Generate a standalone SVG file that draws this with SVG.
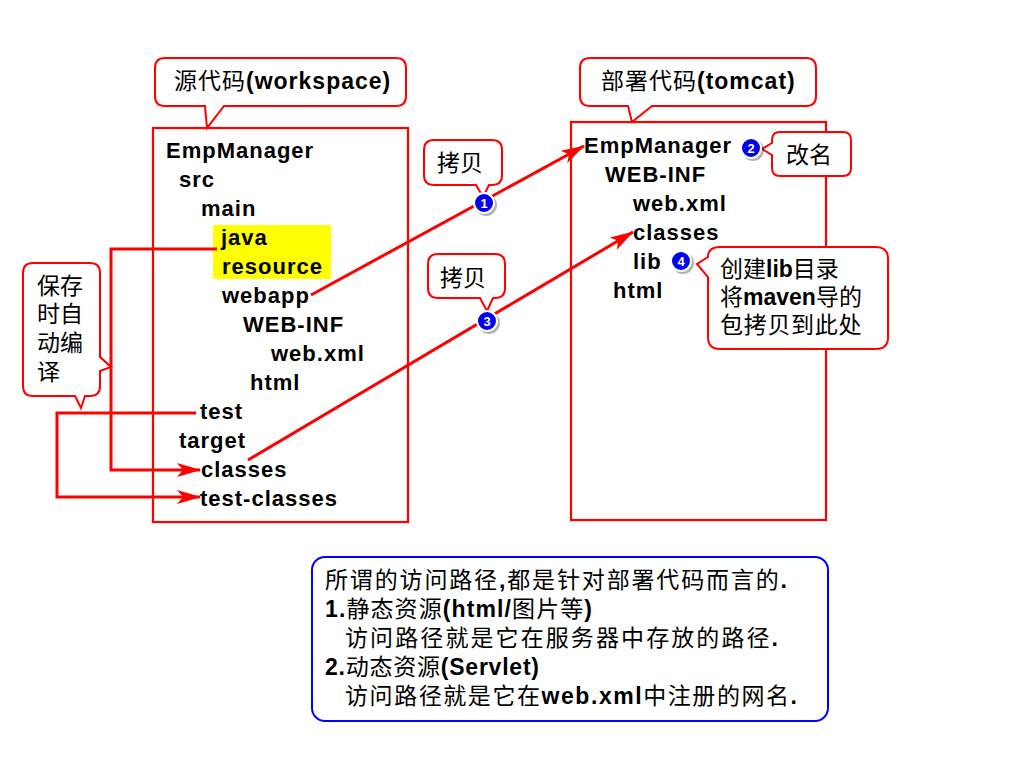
<svg xmlns="http://www.w3.org/2000/svg" width="1024" height="775" viewBox="0 0 1024 775">
<style>
.box{fill:none;stroke:#ff0000;stroke-width:2.2}
.callout{fill:#ffffff;stroke:#ff0000;stroke-width:2}
.tree{font-family:"Liberation Sans",Arial,sans-serif;font-weight:bold;font-size:22px;letter-spacing:1px;fill:#000}
.cjk{font-family:"Liberation Sans","Noto Sans CJK SC",sans-serif;font-size:23px;fill:#000}
.b{font-weight:bold;font-family:"Liberation Sans",Arial,sans-serif}
.conn{fill:none;stroke:#ff0000;stroke-width:3}
.badge-bg{fill:#000;opacity:0.3}
.badge{fill:#0000ee;stroke:#ffffff;stroke-width:2}
.badge-t{font-family:"Liberation Sans",Arial,sans-serif;font-weight:bold;font-size:13px;fill:#fff;text-anchor:middle}
</style>
<defs>
<marker id="arr" viewBox="0 0 24 14" refX="23" refY="7" markerWidth="24" markerHeight="14" markerUnits="userSpaceOnUse" orient="auto">
<path d="M0,0 L24,7 L0,14 L6,7 Z" fill="#ff0000"/>
</marker>
</defs>
<rect width="1024" height="775" fill="#ffffff"/>

<g id="source-box">
<rect x="213" y="225" width="118" height="54" fill="#ffff00"/>
<rect class="box" x="153" y="128" width="255" height="394"/>
<text class="tree" x="166" y="158">EmpManager</text>
<text class="tree" x="179" y="187">src</text>
<text class="tree" x="201" y="216">main</text>
<text class="tree" x="221" y="245">java</text>
<text class="tree" x="222" y="274">resource</text>
<text class="tree" x="222" y="303">webapp</text>
<text class="tree" x="243" y="332">WEB-INF</text>
<text class="tree" x="271" y="361">web.xml</text>
<text class="tree" x="250" y="390">html</text>
<text class="tree" x="200" y="419">test</text>
<text class="tree" x="179" y="448">target</text>
<text class="tree" x="201" y="477">classes</text>
<text class="tree" x="200" y="506">test-classes</text>
</g>

<g id="deploy-box">
<rect class="box" x="571" y="122" width="255" height="398"/>
<text class="tree" x="584" y="153">EmpManager</text>
<text class="tree" x="605" y="182">WEB-INF</text>
<text class="tree" x="633" y="211">web.xml</text>
<text class="tree" x="633" y="240">classes</text>
<text class="tree" x="633" y="269">lib</text>
<text class="tree" x="613" y="298">html</text>
</g>

<g id="connectors">
<polyline class="conn" points="217,249 111,249 111,470 200,470" marker-end="url(#arr)"/>
<polyline class="conn" points="196,413 57,413 57,497 200,497" marker-end="url(#arr)"/>
<line class="conn" x1="311" y1="295" x2="584" y2="146" marker-end="url(#arr)"/>
<line class="conn" x1="248" y1="460" x2="633" y2="232" marker-end="url(#arr)"/>
</g>

<g id="callout-source">
<path class="callout" d="M165,58 H396 Q406,58 406,68 V96 Q406,106 396,106 H224 L207,128 L205,106 H165 Q155,106 155,96 V68 Q155,58 165,58 Z"/>
<text class="cjk" x="174" y="89" font-size="24" letter-spacing="1">源代码<tspan class="b">(workspace)</tspan></text>
</g>

<g id="callout-deploy">
<path class="callout" d="M590,58 H806 Q816,58 816,68 V96 Q816,106 806,106 H652 L632,122 L628,106 H590 Q580,106 580,96 V68 Q580,58 590,58 Z"/>
<text class="cjk" x="601" y="89" font-size="24" letter-spacing="1">部署代码<tspan class="b">(tomcat)</tspan></text>
</g>

<g id="callout-copy1">
<path class="callout" d="M434,140 H492 Q502,140 502,150 V175 Q502,185 492,185 H489 L483,197 L476,185 H434 Q424,185 424,175 V150 Q424,140 434,140 Z"/>
<text class="cjk" x="437" y="171" font-size="24">拷贝</text>
</g>

<g id="callout-copy2">
<path class="callout" d="M438,254 H495 Q505,254 505,264 V288 Q505,298 495,298 H493 L487,311 L480,298 H438 Q428,298 428,288 V264 Q428,254 438,254 Z"/>
<text class="cjk" x="440" y="286" font-size="24">拷贝</text>
</g>

<g id="callout-rename">
<path class="callout" d="M780,132 H843 Q851,132 851,140 V168 Q851,176 843,176 H780 Q772,176 772,168 V155 L762,149 L772,143 V140 Q772,132 780,132 Z"/>
<text class="cjk" x="786" y="163" font-size="24">改名</text>
</g>

<g id="callout-lib">
<path class="callout" d="M720,247 H876 Q888,247 888,259 V337 Q888,349 876,349 H720 Q708,349 708,337 V277 L697,264 L708,257 Q708,247 720,247 Z"/>
<text class="cjk" x="720" y="277" font-size="24">创建<tspan class="b">lib</tspan>目录</text>
<text class="cjk" x="720" y="305" font-size="24">将<tspan class="b">maven</tspan>导的</text>
<text class="cjk" x="720" y="333" font-size="24" letter-spacing="0.7">包拷贝到此处</text>
</g>

<g id="callout-compile">
<path class="callout" d="M33,263 H90 Q100,263 100,273 V357 L111,367 L100,371 V386 Q100,396 90,396 H85 L81,408 L75,396 H33 Q23,396 23,386 V273 Q23,263 33,263 Z"/>
<text class="cjk" x="37" y="294">保存</text>
<text class="cjk" x="37" y="322">时自</text>
<text class="cjk" x="37" y="351">动编</text>
<text class="cjk" x="37" y="380">译</text>
</g>

<g id="badge-1">
<circle class="badge-bg" cx="486" cy="205" r="11"/>
<circle class="badge" cx="484" cy="203" r="10"/>
<text class="badge-t" x="484" y="207.5">1</text>
</g>
<g id="badge-2">
<circle class="badge-bg" cx="753" cy="150" r="11"/>
<circle class="badge" cx="751" cy="148" r="10"/>
<text class="badge-t" x="751" y="152.5">2</text>
</g>
<g id="badge-3">
<circle class="badge-bg" cx="489" cy="323" r="11"/>
<circle class="badge" cx="487" cy="321" r="10"/>
<text class="badge-t" x="487" y="325.5">3</text>
</g>
<g id="badge-4">
<circle class="badge-bg" cx="683" cy="263" r="11"/>
<circle class="badge" cx="681" cy="261" r="10"/>
<text class="badge-t" x="681" y="265.5">4</text>
</g>

<g id="note">
<rect x="312" y="557" width="516" height="164" rx="13" ry="13" fill="#ffffff" stroke="#0000ff" stroke-width="2"/>
<text class="cjk" x="325" y="588" font-size="24" textLength="462" lengthAdjust="spacing">所谓的访问路径<tspan class="b">,</tspan>都是针对部署代码而言的<tspan class="b">.</tspan></text>
<text class="cjk" x="325" y="617" font-size="24" textLength="267" lengthAdjust="spacing"><tspan class="b">1.</tspan>静态资源<tspan class="b">(html/</tspan>图片等<tspan class="b">)</tspan></text>
<text class="cjk" x="345" y="646" font-size="24" textLength="433" lengthAdjust="spacing">访问路径就是它在服务器中存放的路径<tspan class="b">.</tspan></text>
<text class="cjk" x="325" y="675" font-size="24" textLength="214" lengthAdjust="spacing"><tspan class="b">2.</tspan>动态资源<tspan class="b">(Servlet)</tspan></text>
<text class="cjk" x="345" y="704" font-size="24" textLength="452" lengthAdjust="spacing">访问路径就是它在<tspan class="b">web.xml</tspan>中注册的网名<tspan class="b">.</tspan></text>
</g>
</svg>
